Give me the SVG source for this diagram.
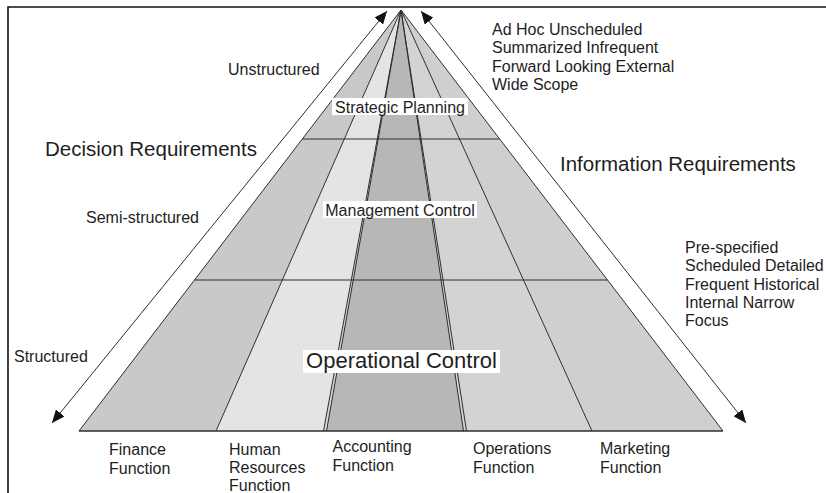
<svg xmlns="http://www.w3.org/2000/svg" width="826" height="493" viewBox="0 0 826 493">
<style>
text { font-family: "Liberation Sans", Arial, Helvetica, sans-serif; fill: #1e1e1e; }
.s16 { font-size: 16px; }
.s20 { font-size: 20.5px; }
.edge { stroke: #2e2e2e; stroke-width: 1; fill: none; }
.arrow { stroke: #2e2e2e; stroke-width: 1; fill: none; marker-start: url(#ah); marker-end: url(#ah); }
.box { fill: #ffffff; }
</style>
<defs>
<marker id="ah" viewBox="0 0 13 11" refX="13" refY="5.5" markerWidth="13" markerHeight="11" markerUnits="userSpaceOnUse" orient="auto-start-reverse">
<path d="M0,0 L13,5.5 L0,11 z" fill="#111"/>
</marker>
</defs>
<rect width="826" height="493" fill="#ffffff"/>
<path id="frame" d="M8,493 V7 H826" fill="none" stroke="#111" stroke-width="1.6"/>

<g id="pyramid">
  <g id="finance-column"><polygon points="401,10 79,431 216,431" fill="#c9c9c9"/></g>
  <g id="hr-column"><polygon points="401,10 216,431 325,431" fill="#e4e4e4"/></g>
  <g id="accounting-column"><polygon points="401,10 325,431 465,431" fill="#b7b7b7"/></g>
  <g id="operations-column"><polygon points="401,10 465,431 592,431" fill="#d3d3d3"/></g>
  <g id="marketing-column"><polygon points="401,10 592,431 723,431" fill="#cfcfcf"/></g>
  <polygon points="401,10 323.5,431 326.5,431" fill="#d6d6d6"/>
  <polygon points="401,10 463.5,431 466.5,431" fill="#d6d6d6"/>
  <g class="edge">
    <line x1="302.3" y1="139" x2="499.7" y2="139"/>
    <line x1="194.5" y1="280" x2="607.5" y2="280"/>
    <line x1="401" y1="10" x2="79" y2="431"/>
    <line x1="401" y1="10" x2="723" y2="431"/>
    <line x1="401" y1="10" x2="216" y2="431"/>
    <line x1="401" y1="10" x2="323.5" y2="431"/>
    <line x1="401" y1="10" x2="326.5" y2="431"/>
    <line x1="401" y1="10" x2="463.5" y2="431"/>
    <line x1="401" y1="10" x2="466.5" y2="431"/>
    <line x1="401" y1="10" x2="592" y2="431"/>
    <line x1="79" y1="431" x2="723" y2="431" stroke-width="1.4"/>
  </g>
</g>

<g id="connectors">
  <line class="arrow" x1="387" y1="11" x2="52" y2="423"/>
  <line class="arrow" x1="421" y1="11" x2="746" y2="423"/>
</g>

<g id="level-strategic">
  <rect class="box" x="332" y="98" width="136" height="17"/>
  <text class="s16" x="400" y="112.5" text-anchor="middle">Strategic Planning</text>
</g>
<g id="level-management">
  <rect class="box" x="323" y="201" width="154" height="17"/>
  <text class="s16" x="400" y="215.5" text-anchor="middle">Management Control</text>
</g>
<g id="level-operational">
  <rect class="box" x="303" y="350" width="197" height="23"/>
  <text x="401.5" y="368" text-anchor="middle" font-size="22">Operational Control</text>
</g>

<g id="decision-labels">
  <text class="s16" x="228" y="75">Unstructured</text>
  <text class="s20" x="45" y="156">Decision Requirements</text>
  <text class="s16" x="86" y="222.5">Semi-structured</text>
  <text class="s16" x="14" y="361.5">Structured</text>
</g>

<g id="information-labels">
  <text class="s20" x="560" y="171">Information Requirements</text>
  <text class="s16" x="492">
    <tspan x="492" y="34.5">Ad Hoc Unscheduled</tspan>
    <tspan x="492" y="53">Summarized Infrequent</tspan>
    <tspan x="492" y="71.5">Forward Looking External</tspan>
    <tspan x="492" y="90">Wide Scope</tspan>
  </text>
  <text class="s16" x="685">
    <tspan x="685" y="252.5">Pre-specified</tspan>
    <tspan x="685" y="271">Scheduled Detailed</tspan>
    <tspan x="685" y="289.5">Frequent Historical</tspan>
    <tspan x="685" y="308">Internal Narrow</tspan>
    <tspan x="685" y="326">Focus</tspan>
  </text>
</g>

<g id="function-labels">
  <g id="finance-label"><text class="s16"><tspan x="109" y="455">Finance</tspan><tspan x="109" y="473.5">Function</tspan></text></g>
  <g id="hr-label"><text class="s16"><tspan x="229" y="454.5">Human</tspan><tspan x="229" y="473">Resources</tspan><tspan x="229" y="491">Function</tspan></text></g>
  <g id="accounting-label"><text class="s16"><tspan x="332.5" y="452">Accounting</tspan><tspan x="332.5" y="471">Function</tspan></text></g>
  <g id="operations-label"><text class="s16"><tspan x="473" y="454">Operations</tspan><tspan x="473" y="472.5">Function</tspan></text></g>
  <g id="marketing-label"><text class="s16"><tspan x="600" y="454">Marketing</tspan><tspan x="600" y="472.5">Function</tspan></text></g>
</g>
</svg>
